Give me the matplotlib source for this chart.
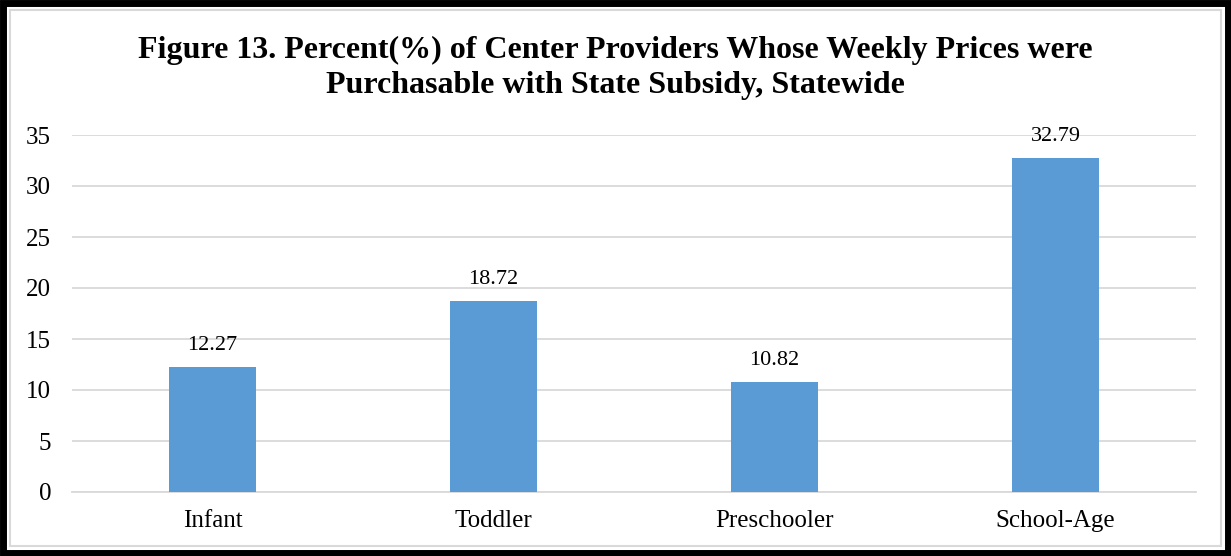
import matplotlib.pyplot as plt
from matplotlib.patches import Rectangle
import numpy as np

categories = ["Infant", "Toddler", "Preschooler", "School-Age"]
values = [12.27, 18.72, 10.82, 32.79]
yticks = [0, 5, 10, 15, 20, 25, 30, 35]

plt.rcParams['font.family'] = ['Liberation Serif', 'DejaVu Serif']

fig = plt.figure(figsize=(12.31, 5.56), dpi=100)
ax = fig.add_axes([72/1231, 1 - 492/556, 1124/1231, 357/556])

x = np.arange(len(categories))
ax.bar(x, values, width=0.31, color='#5B9BD5', zorder=3)
for xi, v in zip(x, values):
    ax.text(xi, v + 2.1, "%.2f" % v, ha='center', va='center', fontsize=16, color='#000000', zorder=4)

ax.set_xlim(-0.5, len(categories) - 0.5)
ax.set_ylim(0, 35)
ax.set_yticks(yticks)
ax.set_xticks(x)
ax.set_xticklabels(categories, fontsize=18)
ax.tick_params(axis='y', labelsize=18, length=0, pad=15)
ax.tick_params(axis='x', length=0, pad=13)
ax.grid(axis='y', color='#D9D9D9', linewidth=1.3, zorder=0)
for s in ['top', 'right', 'left']:
    ax.spines[s].set_visible(False)
ax.spines['bottom'].set_color('#D9D9D9')
ax.spines['bottom'].set_linewidth(1.3)

fig.text(0.5, 1 - 68/556, "Figure 13. Percent(%) of Center Providers Whose Weekly Prices were\nPurchasable with State Subsidy, Statewide",
         ha='center', va='center', fontsize=23, fontweight='bold', linespacing=1.3)

# outer frame: thick black border with a thin gray line inside
fig.patches.append(Rectangle((3/1231, 3/556), 1 - 6/1231, 1 - 6/556, transform=fig.transFigure,
                             fill=False, edgecolor='black', linewidth=5))
fig.patches.append(Rectangle((10/1231, 10/556), 1 - 20/1231, 1 - 20/556, transform=fig.transFigure,
                             fill=False, edgecolor='#D9D9D9', linewidth=1.5))

fig.savefig("out.png", dpi=100)
